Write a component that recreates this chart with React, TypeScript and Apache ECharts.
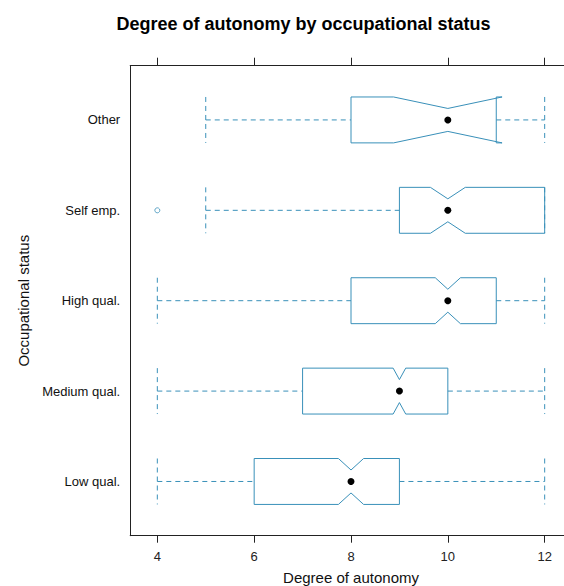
import React, { useEffect, useRef } from "react";
import * as echarts from "echarts";

// Categories, bottom to top
const categories = ["Low qual.", "Medium qual.", "High qual.", "Self emp.", "Other"];
const whiskerLow = [4, 4, 4, 5, 5];
const lowerHinge = [6, 7, 8, 9, 8];
const notchLow = [7.74, 8.87, 9.74, 9.64, 8.88];
const medians = [8, 9, 10, 10, 10];
const notchHigh = [8.26, 9.13, 10.26, 10.36, 11.12];
const upperHinge = [9, 10, 11, 12, 11];
const whiskerHigh = [12, 12, 12, 12, 12];
const outlierValues = [4];
const outlierGroups = ["Self emp."];
const xTicks = [4, 6, 8, 10, 12];

const BLUE = "#3990b9";
const FONT = "'Liberation Sans', Arial, sans-serif";
const BOX_HALF = 0.254;

export default function App() {
  const ref = useRef<HTMLDivElement>(null);
  useEffect(() => {
    if (!ref.current) return;
    const chart = echarts.init(ref.current, null, { renderer: "svg" });
    const boxData = categories.map((c, i) => [
      i + 1,
      whiskerLow[i],
      lowerHinge[i],
      notchLow[i],
      medians[i],
      notchHigh[i],
      upperHinge[i],
      whiskerHigh[i],
    ]);
    const outData = outlierValues.map((v, i) => [v, categories.indexOf(outlierGroups[i]) + 1]);
    const dash = { stroke: BLUE, lineWidth: 1, lineDash: [5, 4], fill: "none" };
    const option: any = {
      animation: false,
      textStyle: { fontFamily: FONT },
      graphic: [
        {
          type: "text",
          x: 303.5,
          y: 24,
          style: {
            text: "Degree of autonomy by occupational status",
            font: `bold 18px ${FONT}`,
            fill: "#000",
            textAlign: "center",
            textVerticalAlign: "middle",
          },
        },
      ],
      grid: {
        left: 130.2,
        top: 65.7,
        width: 441.6,
        height: 470,
        containLabel: false,
        outerBoundsMode: "none",
      },
      xAxis: [
        {
          type: "value",
          position: "bottom",
          min: 3.44,
          max: 12.56,
          name: "Degree of autonomy",
          nameLocation: "middle",
          nameGap: 34,
          nameTextStyle: { fontSize: 15, color: "#111", fontFamily: FONT },
          axisLine: { show: true, onZero: false, lineStyle: { color: "#222", width: 1 } },
          axisTick: { show: true, customValues: xTicks, length: 7, lineStyle: { color: "#222" } },
          axisLabel: { customValues: xTicks, margin: 14, fontSize: 13, color: "#222", fontFamily: FONT },
          splitLine: { show: false },
        },
        {
          type: "value",
          position: "top",
          min: 3.44,
          max: 12.56,
          axisLine: { show: true, onZero: false, lineStyle: { color: "#222", width: 1 } },
          axisTick: { show: true, customValues: xTicks, length: 8, lineStyle: { color: "#222" } },
          axisLabel: { show: false },
          splitLine: { show: false },
        },
      ],
      yAxis: {
        type: "value",
        min: 0.4,
        max: 5.6,
        name: "Occupational status",
        nameLocation: "middle",
        nameGap: 99,
        nameRotate: 90,
        nameTextStyle: { fontSize: 15, color: "#111", fontFamily: FONT },
        axisLine: { show: true, onZero: false, lineStyle: { color: "#222", width: 1 } },
        axisTick: { show: false },
        axisLabel: {
          customValues: [1, 2, 3, 4, 5],
          formatter: (v: number) => categories[Math.round(v) - 1] ?? "",
          margin: 10,
          fontSize: 13,
          color: "#111",
          fontFamily: FONT,
        },
        splitLine: { show: false },
      },
      series: [
        {
          type: "custom",
          xAxisIndex: 0,
          data: boxData,
          encode: { x: [1, 2, 3, 4, 5, 6, 7], y: 0 },
          renderItem: (params: any, api: any) => {
            const yv = api.value(0);
            const X = (v: number) => api.coord([v, yv])[0];
            const cy = api.coord([api.value(4), yv])[1];
            const half = api.size([0, BOX_HALF])[1];
            const wl = X(api.value(1));
            const b1 = X(api.value(2));
            const nl = X(api.value(3));
            const md = X(api.value(4));
            const nh = X(api.value(5));
            const b3 = X(api.value(6));
            const wh = X(api.value(7));
            const top = cy - half;
            const bot = cy + half;
            const itop = cy - half / 2;
            const ibot = cy + half / 2;
            return {
              type: "group",
              children: [
                { type: "line", shape: { x1: wl, y1: cy, x2: b1, y2: cy }, style: dash },
                { type: "line", shape: { x1: b3, y1: cy, x2: wh, y2: cy }, style: dash },
                { type: "line", shape: { x1: wl, y1: top, x2: wl, y2: bot }, style: dash },
                { type: "line", shape: { x1: wh, y1: top, x2: wh, y2: bot }, style: dash },
                {
                  type: "polygon",
                  shape: {
                    points: [
                      [b1, top],
                      [nl, top],
                      [md, itop],
                      [nh, top],
                      [b3, top],
                      [b3, bot],
                      [nh, bot],
                      [md, ibot],
                      [nl, bot],
                      [b1, bot],
                    ],
                  },
                  style: { stroke: BLUE, lineWidth: 1, fill: "none" },
                },
                { type: "circle", shape: { cx: md, cy, r: 3.5 }, style: { fill: "#000" } },
              ],
            };
          },
        },
        {
          type: "scatter",
          xAxisIndex: 0,
          data: outData,
          symbol: "circle",
          symbolSize: 5,
          itemStyle: { color: "#fff", borderColor: BLUE, borderWidth: 1 },
        },
      ],
    };
    chart.setOption(option);
    return () => chart.dispose();
  }, []);
  return (
    <div
      style={{
        position: "absolute",
        left: 0,
        top: 0,
        width: 564,
        height: 586,
        overflow: "hidden",
        background: "#fff",
      }}
    >
      <div ref={ref} style={{ position: "absolute", left: 0, top: 0, width: 600, height: 600 }} />
    </div>
  );
}
